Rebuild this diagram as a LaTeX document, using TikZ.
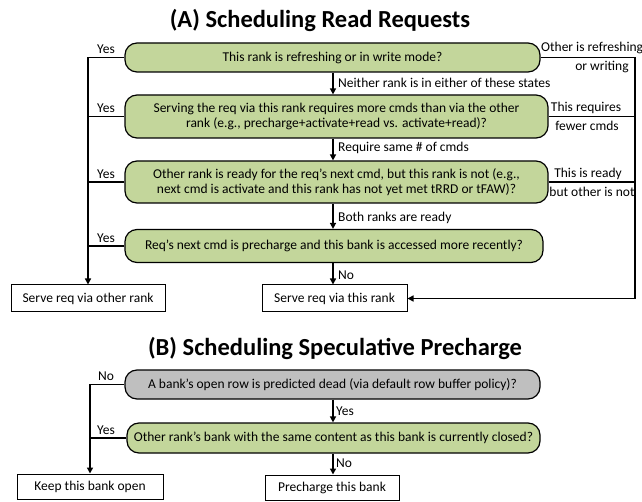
\documentclass[tikz,border=0pt]{standalone}
\usepackage{fontspec}
\setmainfont{Carlito}
\usetikzlibrary{arrows.meta,calc}
\definecolor{qgreen}{HTML}{C3D69B}
\definecolor{qgray}{HTML}{BFBFBF}
\begin{document}
\begin{tikzpicture}[x=1pt,y=-1pt,
  decision/.style={draw=black, line width=1.2pt, rounded corners=12pt, fill=qgreen,
    align=center, inner sep=0pt, font=\fontsize{13.5}{15}\selectfont},
  outcome/.style={draw=black, line width=1pt, fill=white, inner sep=0pt,
    minimum height=27pt, font=\fontsize{13.5}{15}\selectfont},
  flow/.style={line width=1.6pt},
  arr/.style={flow, -{Triangle[length=6pt,width=6pt]}},
  lbl/.style={inner sep=0pt, font=\fontsize{13.5}{15}\selectfont},
  ttl/.style={inner sep=0pt, font=\fontsize{24.5}{28}\selectfont\bfseries}
]
\useasboundingbox (0,0) rectangle (642,502);

% ---------- (A) read request scheduling ----------
\node[ttl] (ta) at (320,20) {(A) Scheduling Read Requests};

\node[decision, minimum width=415pt, minimum height=29pt] (d1) at (332.5,57.5)
  {This rank is refreshing or in write mode?};
\node[decision, minimum width=423pt, minimum height=43pt] (d2) at (336.5,116.5)
  {Serving the req via this rank requires more cmds than via the other\\
   rank (e.g., precharge+activate+read vs. activate+read)?};
\node[decision, minimum width=423pt, minimum height=42pt] (d3) at (336.5,182)
  {Other rank is ready for the req's next cmd, but this rank is not (e.g.,\\
   next cmd is activate and this rank has not yet met tRRD or tFAW)?};
\node[decision, minimum width=418pt, minimum height=33pt] (d4) at (334,246)
  {Req's next cmd is precharge and this bank is accessed more recently?};

\node[outcome, minimum width=154pt] (s1) at (88,298.5) {Serve req via other rank};
\node[outcome, minimum width=145pt] (s2) at (334.5,298.5) {Serve req via this rank};

% "Yes" branches to the left spine
\coordinate (lt) at (88,57.5);
\draw[arr] (d1.west) -- (lt) -- (s1.north);
\foreach \n in {d2,d3,d4} \draw[flow] (\n.west) -- (\n.west -| lt);
\foreach \n in {d1,d2,d3,d4}
  \node[lbl] at ($(\n.west -| lt)+(18,-8)$) {Yes};

% "No" path down the middle
\coordinate (mx) at (333,0);
\draw[arr] (d1.south -| mx) -- (d2.north -| mx);
\draw[arr] (d2.south -| mx) -- (d3.north -| mx);
\draw[arr] (d3.south -| mx) -- (d4.north -| mx);
\draw[arr] (d4.south -| mx) -- (s2.north -| mx);
\node[lbl, anchor=west] at (338,83) {Neither rank is in either of these states};
\node[lbl, anchor=west] at (338,148) {Require same \# of cmds};
\node[lbl, anchor=west] at (338,218) {Both ranks are ready};
\node[lbl, anchor=west] at (338,275) {No};

% branches to the right spine
\coordinate (rt) at (635,57.5);
\draw[flow] (d1.east) -- (rt);
\draw[flow] (d2.east) -- (d2.east -| rt);
\draw[flow] (d3.east) -- (d3.east -| rt);
\draw[arr] (rt) -- (rt |- s2.east) -- (s2.east);
\node[lbl, anchor=west] at (541,48) {Other is refreshing};
\node[lbl] at (602,67) {or writing};
\node[lbl] at (586,108) {This requires};
\node[lbl] at (587,126) {fewer cmds};
\node[lbl] at (588,174) {This is ready};
\node[lbl] at (592,192) {but other is not};

% ---------- (B) speculative precharge ----------
\node[ttl] (tb) at (335,348) {(B) Scheduling Speculative Precharge};

\node[decision, fill=qgray, minimum width=415pt, minimum height=29pt] (b1) at (332.5,384.5)
  {A bank's open row is predicted dead (via default row buffer policy)?};
\node[decision, minimum width=413pt, minimum height=30pt] (b2) at (333.5,438)
  {Other rank's bank with the same content as this bank is currently closed?};

\node[outcome, minimum width=146pt, minimum height=25pt] (k1) at (90,486.5) {Keep this bank open};
\node[outcome, minimum width=134pt, minimum height=25pt] (p1) at (332,487.5) {Precharge this bank};

\coordinate (lb) at (90,384.5);
\draw[arr] (b1.west) -- (lb) -- (k1.north);
\draw[flow] (b2.west) -- (b2.west -| lb);
\node[lbl] at ($(lb)+(16,-8)$) {No};
\node[lbl] at ($(b2.west -| lb)+(16,-8)$) {Yes};

\draw[arr] (b1.south -| mx) -- (b2.north -| mx);
\draw[arr] (b2.south -| mx) -- (p1.north -| mx);
\node[lbl, anchor=west] at (336,411) {Yes};
\node[lbl, anchor=west] at (336,463) {No};
\end{tikzpicture}
\end{document}
